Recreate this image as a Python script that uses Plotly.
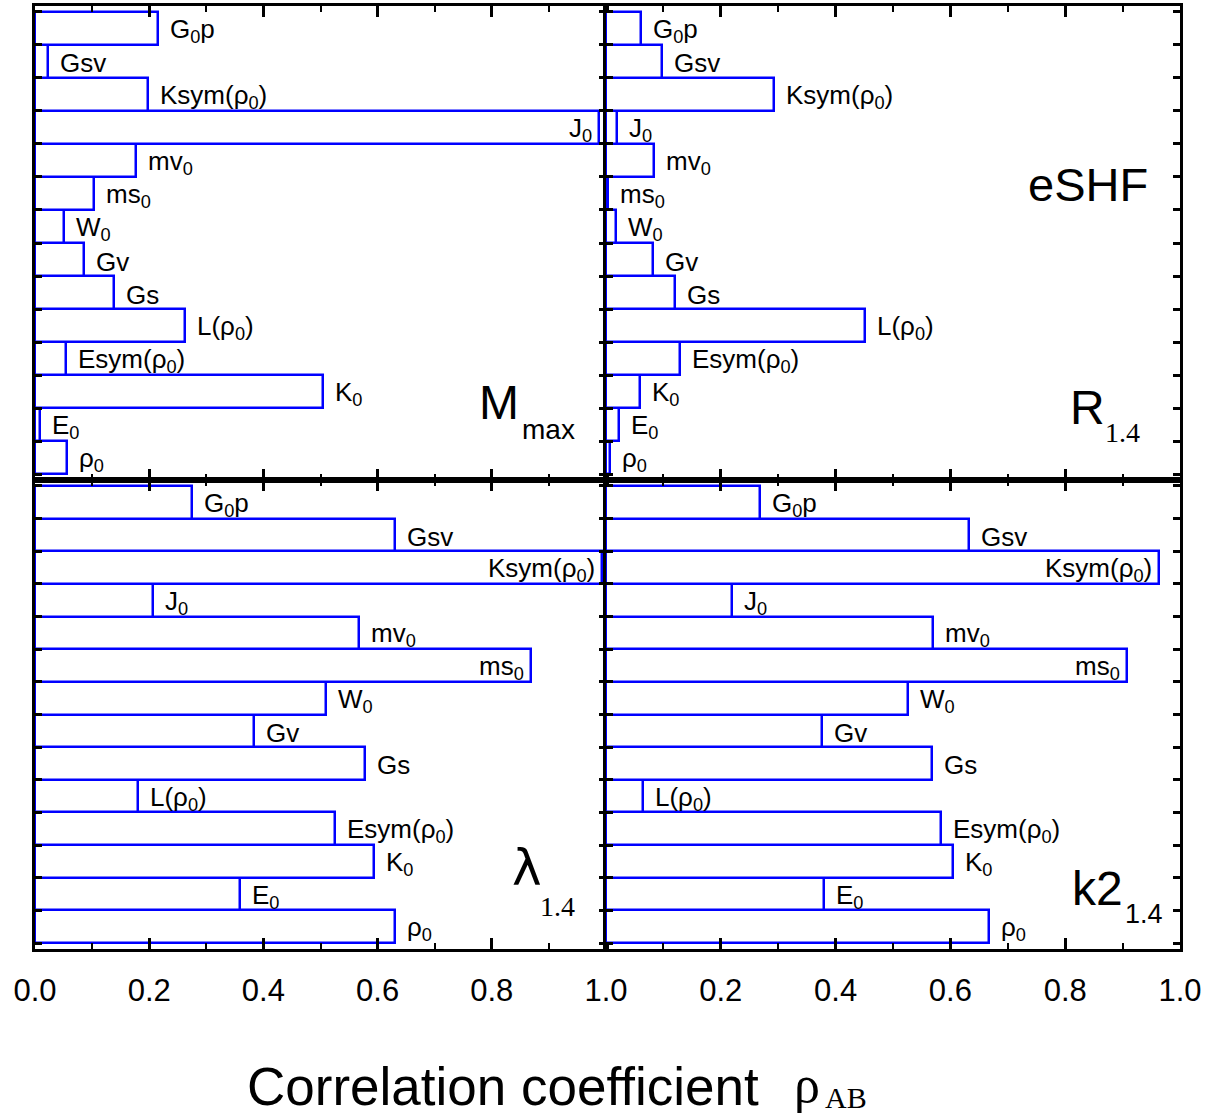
import plotly.graph_objects as go

# Nuclear-matter parameters (bottom to top of each panel)
params = ["ρ<sub>0</sub>", "E<sub>0</sub>", "K<sub>0</sub>", "Esym(ρ<sub>0</sub>)", "L(ρ<sub>0</sub>)",
          "Gs", "Gv", "W<sub>0</sub>", "ms<sub>0</sub>", "mv<sub>0</sub>", "J<sub>0</sub>",
          "Ksym(ρ<sub>0</sub>)", "Gsv", "G<sub>0</sub>p"]

# Correlation coefficients with each neutron-star observable
mmax = [0.056, 0.009, 0.505, 0.054, 0.263, 0.139, 0.085, 0.051, 0.103, 0.177, 0.988, 0.198, 0.022, 0.216]
r14 = [0.007, 0.022, 0.060, 0.129, 0.451, 0.121, 0.082, 0.017, 0.003, 0.084, 0.019, 0.292, 0.098, 0.061]
lam14 = [0.631, 0.359, 0.594, 0.526, 0.180, 0.578, 0.383, 0.509, 0.869, 0.568, 0.207, 0.993, 0.631, 0.275]
k214 = [0.667, 0.380, 0.604, 0.583, 0.065, 0.568, 0.376, 0.526, 0.908, 0.570, 0.219, 0.963, 0.632, 0.269]

x_ticks_left = [0.0, 0.2, 0.4, 0.6, 0.8, 1.0]
x_ticks_right = [0.2, 0.4, 0.6, 0.8, 1.0]

W, H = 1205, 1119
SANS = "Liberation Sans, Arial, Helvetica, sans-serif"
SERIF = "Liberation Serif, Times New Roman, serif"
BLUE = "#0000ff"


def px(x):
    return x / W


def py(y):
    return 1 - y / H


# panel geometry in pixels: (left, right, top, bottom)
panels = [
    (mmax, (35, 606), (6, 480), False, True),
    (r14, (606, 1180), (6, 480), False, False),
    (lam14, (35, 606), (480, 949), True, True),
    (k214, (606, 1180), (480, 949), True, False),
]

fig = go.Figure()
annotations = []
ypos = list(range(len(params)))

for i, (vals, (xl, xr), (yt, yb), bottom_row, left_col) in enumerate(panels):
    n = "" if i == 0 else str(i + 1)
    xa, ya = "x" + n, "y" + n
    fig.add_trace(go.Bar(
        x=vals, y=ypos, orientation="h", width=1,
        marker=dict(color="white", line=dict(color=BLUE, width=2.5)),
        xaxis=xa, yaxis=ya, showlegend=False, hoverinfo="x",
    ))
    ticks = x_ticks_left if left_col else x_ticks_right
    fig.layout["xaxis" + n] = dict(
        domain=[px(xl), px(xr)], anchor=ya, range=[0, 1], automargin=False,
        tickvals=ticks, tickformat=".1f", showticklabels=bottom_row,
        ticks="inside", ticklen=11, tickwidth=2.5,
        tickcolor="black", showline=True, linecolor="black", linewidth=3,
        mirror="allticks", showgrid=False, zeroline=False,
        minor=dict(dtick=0.1, ticks="inside", ticklen=6, tickwidth=2, tickcolor="black"),
        tickfont=dict(family=SANS, size=31, color="black"), ticklabelstandoff=12,
    )
    fig.layout["yaxis" + n] = dict(
        domain=[py(yb), py(yt)], anchor=xa, range=[-0.68, 13.68], automargin=False,
        tickvals=[k + 0.5 for k in range(-1, len(params))], showticklabels=False,
        ticks="inside", ticklen=7, tickwidth=2.5, tickcolor="black",
        showline=True, linecolor="black", linewidth=3, mirror="allticks",
        showgrid=False, zeroline=False,
    )
    for k, (name, v) in enumerate(zip(params, vals)):
        inside = v > 0.8
        annotations.append(dict(
            x=v, y=k, xref=xa, yref=ya, text=name, showarrow=False,
            xanchor="right" if inside else "left", yanchor="middle",
            xshift=-5 if inside else 10, yshift=-2,
            font=dict(family=SANS, size=26, color="black"),
        ))


def label(x, y, text, size, family=SANS):
    annotations.append(dict(
        x=px(x), y=py(y), xref="paper", yref="paper", text=text, showarrow=False,
        xanchor="left", yanchor="middle", font=dict(family=family, size=size, color="black"),
    ))


# panel titles
label(477, 403, "M", 48)
label(520, 430, "max", 28)
label(1026, 185, "eSHF", 47)
label(1068, 407, "R", 48)
label(1103, 432, "1.4", 28, SERIF)
label(510, 868, "λ", 50, "DejaVu Sans, sans-serif")
label(538, 906, "1.4", 28, SERIF)
label(1070, 888, "k2", 48)
label(1123, 914, "1.4", 27)

# shared x-axis title
label(245, 1086, "Correlation coefficient", 53)
label(792, 1084, "ρ", 52, SERIF)
label(823, 1097, "AB", 30, SERIF)

fig.update_layout(
    width=W, height=H, margin=dict(l=0, r=0, t=0, b=0, autoexpand=False),
    paper_bgcolor="white", plot_bgcolor="white",
    barmode="overlay", bargap=0,
    annotations=annotations,
)

fig.write_html("out.html")
